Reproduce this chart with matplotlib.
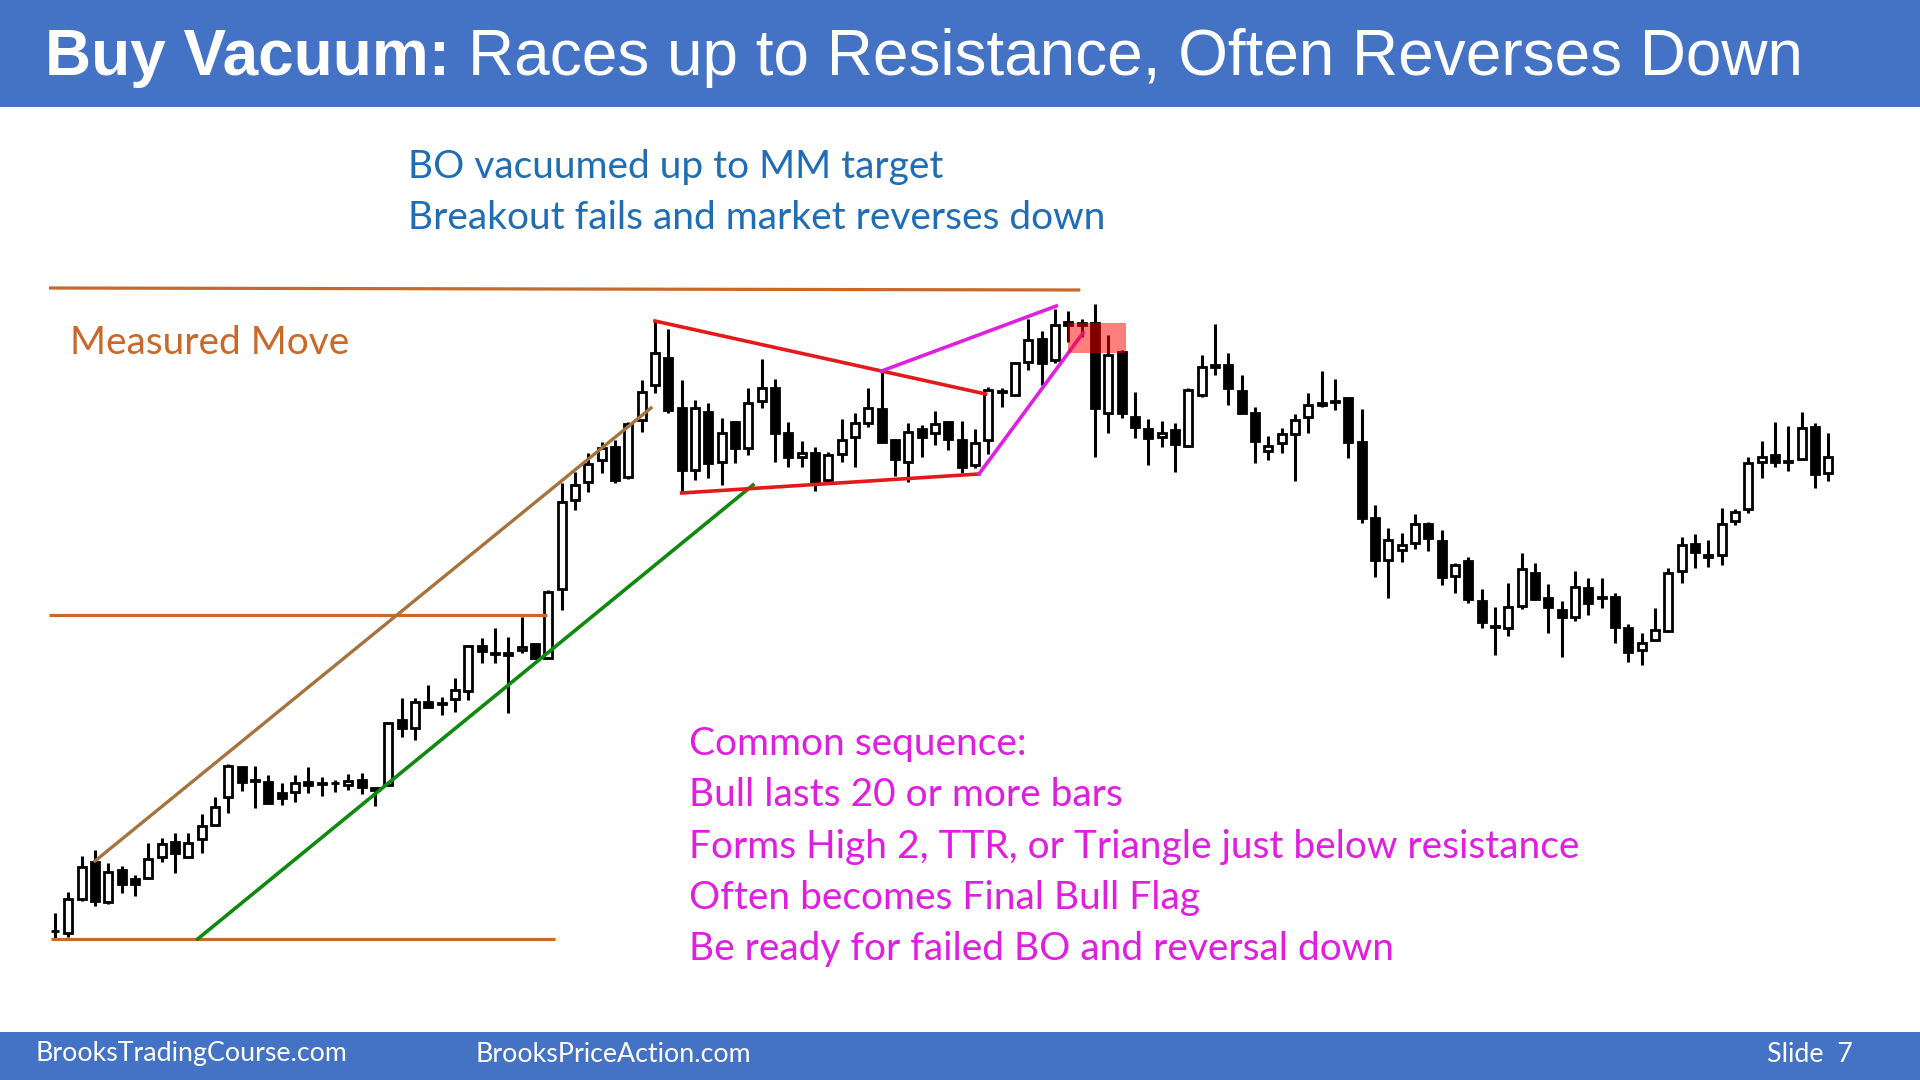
import matplotlib
matplotlib.use("Agg")
import matplotlib.pyplot as plt
from matplotlib.patches import Rectangle
import numpy as np

# candle data, one value per bar (price units)
opens = [69, 67, 101, 138, 98, 130, 121, 122, 143, 158,
         143, 161, 175, 203, 233, 220, 218, 207, 208, 218,
         217, 217, 215, 220, 212, 215, 280, 272, 298, 297,
         301, 309, 354, 347, 347, 350, 356, 342, 411, 500,
         518, 540, 553, 523, 580, 615, 642, 592, 530, 588,
         538, 578, 552, 599, 612, 567, 543, 547, 520, 546,
         563, 577, 591, 560, 538, 571, 567, 578, 560, 535,
         560, 609, 605, 638, 661, 640, 678, 677, 677, 587,
         648, 583, 571, 563, 570, 554, 605, 635, 635, 609,
         587, 549, 557, 566, 583, 597, 599, 602, 558, 482,
         440, 450, 457, 476, 459, 424, 439, 399, 374, 372,
         394, 427, 402, 390, 383, 412, 403, 403, 372, 350,
         360, 369, 429, 456, 445, 445, 479, 491, 538, 545,
         539, 541, 573, 527]
highs = [87, 108, 144, 150, 137, 134, 125, 157, 162, 167,
         167, 186, 203, 236, 234, 234, 225, 217, 225, 233,
         223, 220, 226, 227, 213, 278, 302, 302, 315, 303,
         322, 355, 362, 372, 363, 383, 357, 410, 517, 528,
         547, 558, 560, 578, 620, 680, 671, 620, 600, 597,
         582, 579, 612, 641, 621, 578, 559, 553, 548, 581,
         587, 612, 628, 561, 577, 575, 589, 579, 579, 571,
         613, 612, 638, 681, 669, 691, 689, 681, 696, 665,
         650, 608, 581, 579, 577, 612, 645, 676, 647, 625,
         593, 564, 572, 586, 607, 629, 621, 603, 591, 495,
         472, 467, 486, 478, 470, 437, 443, 411, 393, 417,
         447, 437, 416, 399, 429, 422, 422, 407, 376, 367,
         392, 432, 463, 466, 460, 492, 491, 543, 559, 578,
         574, 588, 577, 567]
lows = [60, 63, 99, 94, 96, 107, 104, 121, 138, 127,
        143, 147, 174, 187, 209, 192, 196, 195, 198, 207,
        204, 208, 210, 206, 194, 214, 263, 260, 292, 285,
        288, 300, 337, 337, 287, 347, 341, 341, 390, 490,
        508, 527, 517, 521, 568, 607, 587, 507, 520, 522,
        515, 537, 545, 592, 538, 533, 533, 509, 518, 538,
        533, 573, 557, 524, 518, 543, 555, 550, 527, 532,
        546, 593, 604, 630, 615, 637, 658, 663, 543, 567,
        582, 562, 535, 553, 528, 553, 603, 625, 595, 586,
        537, 540, 547, 519, 567, 593, 590, 542, 477, 423,
        402, 438, 451, 449, 415, 407, 397, 372, 345, 364,
        391, 400, 367, 343, 379, 385, 392, 357, 338, 335,
        359, 368, 417, 432, 433, 435, 475, 487, 522, 533,
        529, 540, 512, 519]
closes = [69, 101, 133, 99, 128, 116, 116, 141, 156, 147,
          157, 174, 193, 234, 218, 219, 197, 202, 217, 215,
          216, 217, 219, 213, 210, 277, 272, 298, 293, 296,
          310, 354, 349, 346, 345, 353, 342, 408, 498, 515,
          536, 552, 520, 576, 608, 647, 590, 530, 592, 537,
          567, 552, 597, 612, 567, 543, 547, 518, 545, 560,
          577, 592, 558, 541, 568, 563, 576, 561, 533, 557,
          610, 608, 637, 660, 637, 675, 675, 675, 592, 645,
          587, 573, 562, 567, 556, 610, 633, 633, 612, 587,
          559, 554, 566, 580, 595, 595, 598, 558, 482, 440,
          460, 455, 476, 462, 423, 435, 401, 378, 373, 393,
          431, 401, 393, 383, 413, 397, 402, 373, 348, 357,
          370, 427, 455, 448, 443, 476, 488, 537, 543, 538,
          538, 572, 526, 543]

# annotation lines: (bar, price) end points
mm_top = ([-0.45, 76.9], [712, 710])
mm_mid = ([-0.45, 36.9], [385, 385])
mm_bottom = ([-0.3, 37.5], [61, 61])
channel_top = ([3.0, 44.7], [139, 592])
channel_bottom = ([10.7, 52.35], [61, 515])
tri_top = ([45.0, 69.8], [679, 606])
tri_bottom = ([47.0, 69.3], [507, 526])
wedge_top = ([62.0, 75.1], [629, 694])
wedge_bottom = ([69.3, 77.1], [526, 667])
fail_box = (76.0, 80.3, 647, 677)  # bar from, bar to, price low, price high

blue_lines = ["BO vacuumed up to MM target", "Breakout fails and market reverses down"]
pink_lines = ["Common sequence:",
              "Bull lasts 20 or more bars",
              "Forms High 2, TTR, or Triangle just below resistance",
              "Often becomes Final Bull Flag",
              "Be ready for failed BO and reversal down"]

W, H = 1920, 1080
band = '#4472C4'
fig = plt.figure(figsize=(19.2, 10.8), dpi=100)
fig.patch.set_facecolor('white')

ax = fig.add_axes([0, 0, 1, 1])
ax.set_xlim(-55 / 13.333, (W - 55) / 13.333)
ax.set_ylim(-80, 1000)
ax.axis('off')

x = np.arange(len(opens))
o = np.array(opens)
c = np.array(closes)
ax.vlines(x, lows, highs, color='black', linewidth=2.2, zorder=2)
bottoms = np.minimum(o, c)
heights = np.abs(c - o)
face = ['white' if cc > oo else 'black' for oo, cc in zip(o, c)]
ax.bar(x, heights, width=0.6, bottom=bottoms, color=face, edgecolor='black',
       linewidth=2.0, zorder=3)

orange = '#C8692A'
for ln in (mm_top, mm_mid, mm_bottom):
    ax.plot(ln[0], ln[1], color=orange, linewidth=2.3, zorder=4, solid_capstyle='butt')
ax.plot(*channel_top, color='#A6733F', linewidth=2.4, zorder=4)
ax.plot(*channel_bottom, color='#0F8A0F', linewidth=2.6, zorder=4)
ax.plot(*tri_top, color='#E41A1A', linewidth=2.6, zorder=4)
ax.plot(*tri_bottom, color='#E41A1A', linewidth=2.6, zorder=4)
ax.plot(*wedge_top, color='#E020E0', linewidth=2.6, zorder=4)
ax.plot(*wedge_bottom, color='#E020E0', linewidth=2.6, zorder=4)
ax.add_patch(Rectangle((fail_box[0], fail_box[2]), fail_box[1] - fail_box[0],
                       fail_box[3] - fail_box[2], facecolor='red', alpha=0.5,
                       edgecolor='none', zorder=5))

# header and footer bands
fig.patches.append(Rectangle((0, 1 - 107 / H), 1, 107 / H, transform=fig.transFigure,
                             facecolor=band, edgecolor='none', zorder=0))
fig.patches.append(Rectangle((0, 0), 1, 48 / H, transform=fig.transFigure,
                             facecolor=band, edgecolor='none', zorder=0))

title_font = 'Liberation Sans'
t1 = fig.text(45 / W, 1 - 58 / H, "Buy Vacuum: ", color='white', fontsize=46,
              fontweight='bold', family=title_font, va='center', ha='left')
fig.canvas.draw()
bb = t1.get_window_extent()
fig.text(bb.x1 / W, 1 - 58 / H, "Races up to Resistance, Often Reverses Down",
         color='white', fontsize=46, family=title_font, va='center', ha='left')

body_font = 'Lato'
for k, s in enumerate(blue_lines):
    fig.text(408 / W, 1 - (167 + 51 * k) / H, s, color='#1F6DB5', fontsize=28,
             family=body_font, va='center', ha='left')

fig.text(70 / W, 1 - 343 / H, "Measured Move", color='#C8692A', fontsize=28,
         family=body_font, va='center', ha='left')

for k, s in enumerate(pink_lines):
    fig.text(689 / W, 1 - (744 + 51.3 * k) / H, s, color='#E01EE0', fontsize=28,
             family=body_font, va='center', ha='left')

fig.text(36 / W, 1 - 1054 / H, "BrooksTradingCourse.com", color='white', fontsize=19.3,
         family=body_font, va='center', ha='left')
fig.text(475 / W, 1 - 1054 / H, "BrooksPriceAction.com", color='white', fontsize=19.3,
         family=body_font, va='center', ha='left')
fig.text(1767 / W, 1 - 1054 / H, "Slide  7", color='white', fontsize=19.3,
         family=body_font, va='center', ha='left')

fig.savefig('out.png', dpi=100, facecolor='white')
